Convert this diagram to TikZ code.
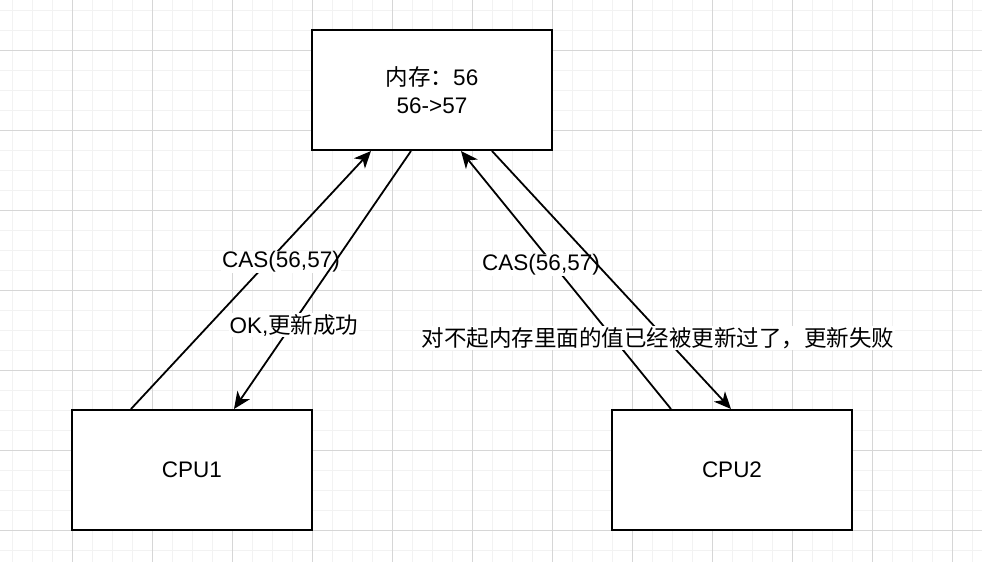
\documentclass[tikz,border=0pt]{standalone}
\usepackage{fontspec}
\setmainfont{Liberation Sans}
\newfontfamily\cjk{Noto Sans CJK SC}
\usetikzlibrary{calc,arrows.meta}
\begin{document}
\begin{tikzpicture}[x=1pt,y=-1pt,
  box/.style={draw=black,line width=2pt,fill=white,minimum width=240pt,minimum height=120pt,inner sep=0pt,align=center,font=\fontsize{22.5}{28}\selectfont},
  conn/.style={draw=black,line width=1.8pt,-{Stealth[length=17pt,width=15pt,inset=5pt]}},
  lbl/.style={fill=white,inner sep=1pt,font=\fontsize{22.5}{27}\selectfont}]
\useasboundingbox (0,0) rectangle (982,562);
\fill[white] (0,0) rectangle (982,562);
% minor grid
\foreach \x in {12,32,...,982} \draw[line width=1pt,black!5] (\x,0) -- (\x,562);
\foreach \y in {10,30,...,562} \draw[line width=1pt,black!5] (0,\y) -- (982,\y);
% major grid
\foreach \x in {72,152,...,982} \draw[line width=1pt,black!16] (\x,0) -- (\x,562);
\foreach \y in {50,130,...,562} \draw[line width=1pt,black!16] (0,\y) -- (982,\y);

\node[box] (mem) at (432,90) {{\cjk 内存：}56\\56->57};
\node[box] (cpu1) at (192,470) {CPU1};
\node[box] (cpu2) at (732,470) {CPU2};

\coordinate (a1) at ($(cpu1.north west)+(60,0)$);
\coordinate (a2) at ($(mem.south west)+(60,0)$);
\coordinate (b1) at ($(mem.south west)+(100,0)$);
\coordinate (b2) at ($(cpu1.north west)+(163,0)$);
\coordinate (c1) at ($(cpu2.north west)+(60,0)$);
\coordinate (c2) at ($(mem.south west)+(150,0)$);
\coordinate (d1) at ($(mem.south west)+(181,0)$);
\coordinate (d2) at ($(cpu2.north west)+(120,0)$);

\draw[conn] (a1) -- (a2);
\node[lbl] (l1) at (281,262) {CAS(56,57)};
\draw[conn] (b1) -- (b2);
\node[lbl] (l2) at (294,325) {OK,{\cjk 更新成功}};
\draw[conn] (c1) -- (c2);
\node[lbl] (l3) at (541,265) {CAS(56,57)};
\draw[conn] (d1) -- (d2);
\node[lbl] (l4) at (658,338) {\cjk 对不起内存里面的值已经被更新过了，更新失败};
\end{tikzpicture}
\end{document}
